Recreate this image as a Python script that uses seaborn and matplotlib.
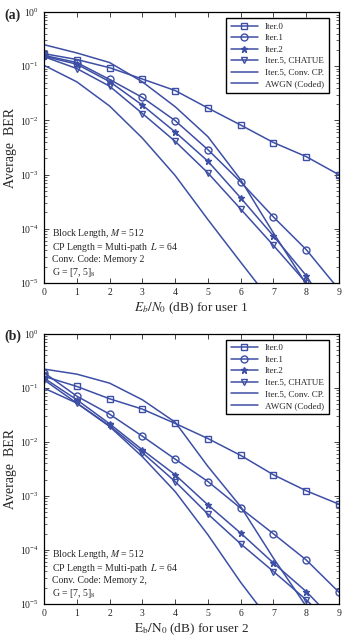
import numpy as np
import pandas as pd
import matplotlib
matplotlib.use("Agg")
import matplotlib.pyplot as plt
import seaborn as sns

# ---------------- data ----------------
ebn0 = [0, 1, 2, 3, 4, 5, 6, 7, 8, 9]
series_names = ["Iter.0", "Iter.1", "Iter.2", "Iter.5, CHATUE",
                "Iter.5, Conv. CP.", "AWGN (Coded)"]

# user 1 (panel a)
u1_iter0 = [0.171, 0.133, 0.094, 0.058, 0.0356, 0.0169, 0.0082, 0.0039, 0.00214, 0.00099]
u1_iter1 = [0.159, 0.117, 0.057, 0.0265, 0.0099, 0.00288, 0.00073, 0.000164, 4.1e-5, 7.5e-6]
u1_iter2 = [0.153, 0.109, 0.052, 0.0191, 0.0061, 0.00176, 0.00037, 7.3e-5, 1.36e-5, 1.5e-6]
u1_iter5 = [0.150, 0.0906, 0.0428, 0.0134, 0.0041, 0.00107, 0.00023, 4.9e-5, 1.0e-5, 2.0e-6]
u1_conv = [0.250, 0.176, 0.117, 0.0515, 0.0179, 0.0050, 0.0008, 8.3e-5, 9.5e-6, 1.0e-6]
u1_awgn = [0.104, 0.0515, 0.0184, 0.0047, 0.00096, 0.000147, 2.4e-5, 4.0e-6, 7e-7, 1e-7]

# user 2 (panel b)
u2_iter0 = [0.163, 0.106, 0.0626, 0.0403, 0.0219, 0.0115, 0.0056, 0.00245, 0.00124, 0.0007]
u2_iter1 = [0.190, 0.070, 0.0325, 0.0127, 0.00478, 0.00184, 0.00059, 0.000198, 6.5e-5, 1.64e-5]
u2_iter2 = [0.151, 0.060, 0.0216, 0.0071, 0.00245, 0.00068, 0.000204, 5.7e-5, 1.69e-5, 4.0e-6]
u2_iter5 = [0.140, 0.052, 0.0198, 0.0063, 0.00184, 0.00046, 0.000129, 3.97e-5, 1.19e-5, 3.0e-6]
u2_conv = [0.222, 0.179, 0.122, 0.060, 0.0231, 0.0035, 0.00063, 7.0e-5, 9.0e-6, 1.0e-6]
u2_awgn = [0.0986, 0.052, 0.0192, 0.0053, 0.0012, 0.00019, 2.5e-5, 4.0e-6, 7e-7, 1e-7]

x_ticks = [0, 1, 2, 3, 4, 5, 6, 7, 8, 9]

# ---------------- style ----------------
sns.set_style("ticks")
plt.rcParams["font.family"] = ["Liberation Serif", "DejaVu Serif"]
plt.rcParams["mathtext.fontset"] = "stix"

color = "#3d4fa5"
markers = ["s", "o", "*", "v", None, None]
msizes = [5, 5, 4.5, 5, 0, 0]


def make_df(vals_list):
    rows = []
    for name, vals in zip(series_names, vals_list):
        for x, v in zip(ebn0, vals):
            rows.append({"x": x, "ber": v, "series": name})
    return pd.DataFrame(rows)


fig = plt.figure(figsize=(3.47, 6.37), dpi=100)
ax1 = fig.add_axes([0.127, 0.556, 0.850, 0.425])
ax2 = fig.add_axes([0.127, 0.052, 0.850, 0.424])

panels = [
    (ax1, [u1_iter0, u1_iter1, u1_iter2, u1_iter5, u1_conv, u1_awgn],
     r"$E_b/N_0$ (dB) for user 1", "(a)",
     ["Block Length, $M$ = 512", "CP Length = Multi-path  $L$ = 64",
      "Conv. Code: Memory 2", r"G = [7, 5]$_8$"]),
    (ax2, [u2_iter0, u2_iter1, u2_iter2, u2_iter5, u2_conv, u2_awgn],
     r"$\mathrm{E_b/N_0}$ (dB) for user 2", "(b)",
     ["Block Length, $M$ = 512", "CP Length = Multi-path  $L$ = 64",
      "Conv. Code: Memory 2,", r"G = [7, 5]$_8$"]),
]

for ax, vals, xlabel, tag, notes in panels:
    df = make_df(vals)
    for name, mk, ms in zip(series_names, markers, msizes):
        sub = df[df["series"] == name]
        kw = dict(marker=mk, markersize=ms, markerfacecolor="none",
                  markeredgecolor=color, markeredgewidth=1.0) if mk else {}
        if mk == "*":
            kw["markerfacecolor"] = color
        sns.lineplot(data=sub, x="x", y="ber", ax=ax, color=color,
                     linewidth=1.1, label=name, **kw)
    ax.set_yscale("log")
    ax.set_ylim(1e-5, 1)
    ax.set_xlim(0, 9)
    ax.set_xticks(x_ticks)
    ax.set_xlabel(xlabel, fontsize=9.5, labelpad=2)
    ax.set_ylabel("Average  BER", fontsize=10, labelpad=2)
    ax.tick_params(axis="both", which="both", direction="in",
                   top=True, right=True, labelsize=7, pad=4)
    ax.tick_params(which="major", length=3.5, width=0.6)
    ax.tick_params(which="minor", length=2, width=0.5)
    for sp in ax.spines.values():
        sp.set_linewidth(0.9)
        sp.set_color("black")
    leg = ax.legend(loc="upper right", fontsize=6.5, frameon=True,
                    fancybox=False, edgecolor="black", framealpha=1,
                    handlelength=3.0, borderpad=0.5, labelspacing=0.35,
                    handletextpad=0.8, bbox_to_anchor=(0.98, 0.995))
    leg.get_frame().set_linewidth(1.0)
    ax.text(0.027, 0.015, "\n".join(notes), transform=ax.transAxes,
            fontsize=7, va="bottom", ha="left", linespacing=1.15)
    ax.text(-0.135, 0.99, tag, transform=ax.transAxes, fontsize=10,
            fontweight="bold", ha="left", va="center")

fig.savefig("out.png", dpi=100)
